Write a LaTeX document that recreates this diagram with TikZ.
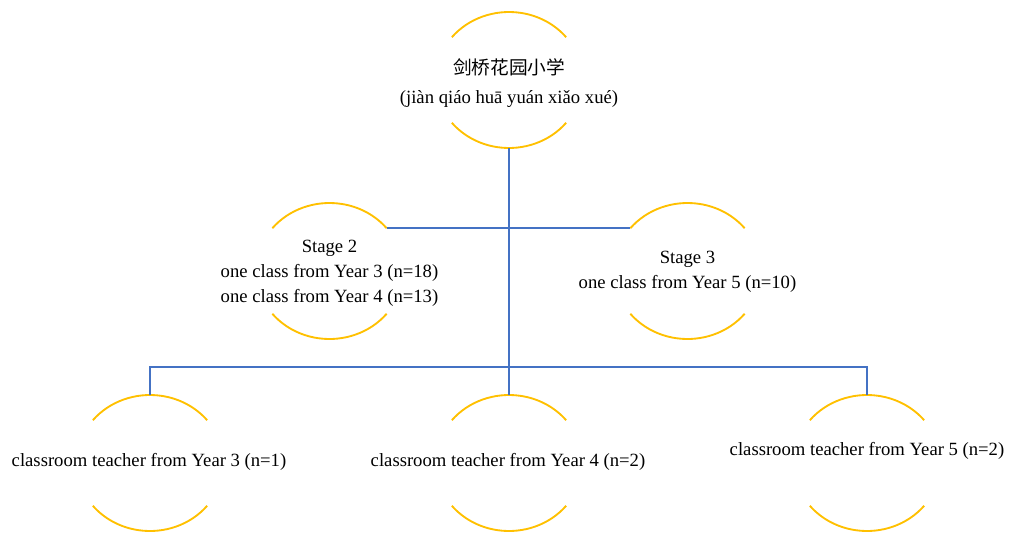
\documentclass[tikz,border=0pt]{standalone}
\usepackage{fontspec}
\setmainfont{Liberation Serif}
\newfontfamily\cjkfont{Noto Sans CJK SC}
\definecolor{arcgold}{HTML}{FFC000}
\definecolor{linkblue}{HTML}{4472C4}

\begin{document}
\begin{tikzpicture}[x=0.75pt, y=-0.75pt,
    arcline/.style={draw=arcgold, line width=1.4pt},
    linkline/.style={draw=linkblue, line width=1.2pt},
    unit/.style={align=center, inner sep=0pt, font=\fontsize{14}{18.75}\selectfont}]
  \useasboundingbox (0,0) rectangle (1009,532);

  % circle centres
  \coordinate (sch) at (509,80);
  \coordinate (st2) at (329.5,271);
  \coordinate (st3) at (687.5,271);
  \coordinate (t3) at (150,463);
  \coordinate (t4) at (509,463);
  \coordinate (t5) at (867,463);
  \coordinate (bus) at (509,367);

  \foreach \n in {sch,st2,st3,t3,t4,t5}{
    \path[arcline] (\n) ++(219:73.5 and 68) arc[start angle=219, end angle=321, x radius=73.5, y radius=68];
    \path[arcline] (\n) ++(39:73.5 and 68) arc[start angle=39, end angle=141, x radius=73.5, y radius=68];
    \coordinate (\n-top) at ([shift={(270:73.5 and 68)}]\n);
    \coordinate (\n-bot) at ([shift={(90:73.5 and 68)}]\n);
    \coordinate (\n-ne) at ([shift={(321:73.5 and 68)}]\n);
    \coordinate (\n-nw) at ([shift={(219:73.5 and 68)}]\n);
  }

  \path[linkline] (sch-bot) -- (t4-top);
  \path[linkline] (st2-ne) -- (st3-nw);
  \path[linkline] (t3-top) |- (bus) -| (t5-top);

  \node[unit] (sch-label) at (509,83) {{\cjkfont 剑桥花园小学}\\[2.5pt](jiàn qiáo huā yuán xiǎo xué)};
  \node[unit] (st2-label) at (329.5,273) {Stage 2\\one class from Year 3 (n=18)\\one class from Year 4 (n=13)};
  \node[unit] (st3-label) at (687.5,272) {Stage 3\\one class from Year 5 (n=10)};
  \node[unit] (t3-label) at (149,462) {classroom teacher from Year 3 (n=1)};
  \node[unit] (t4-label) at (508,462) {classroom teacher from Year 4 (n=2)};
  \node[unit] (t5-label) at (867,451) {classroom teacher from Year 5 (n=2)};
\end{tikzpicture}
\end{document}
